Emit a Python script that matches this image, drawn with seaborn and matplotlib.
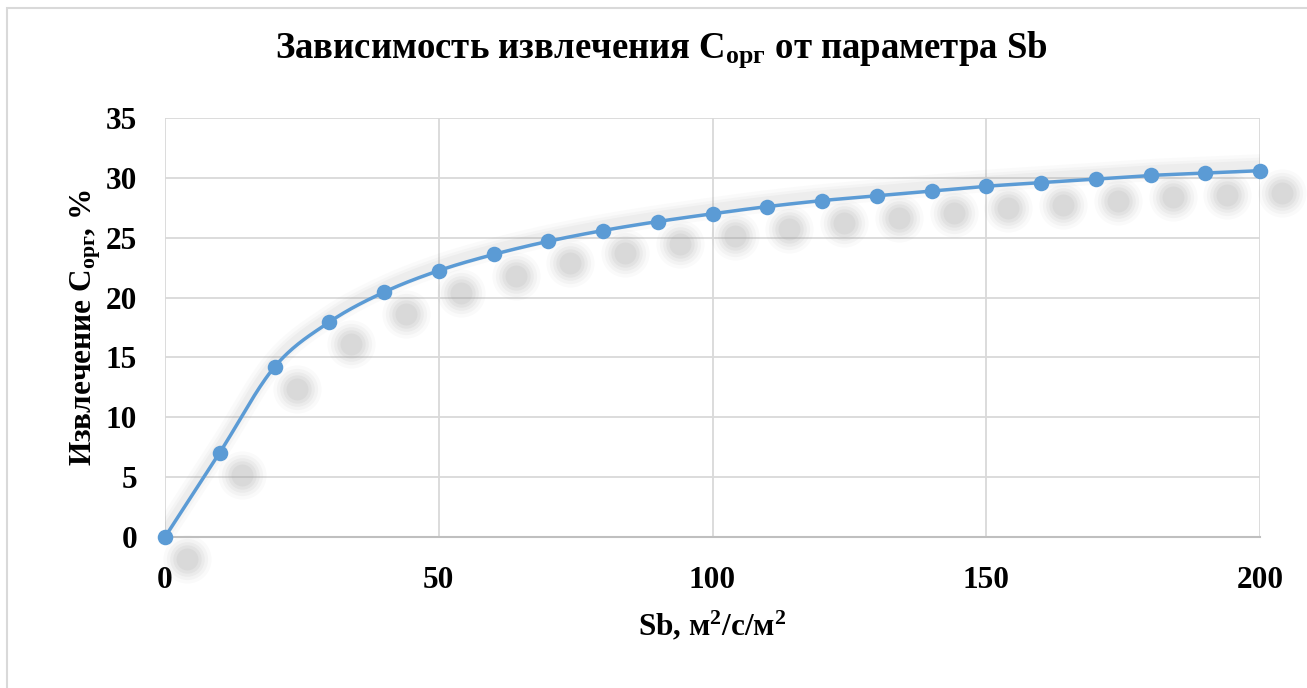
import numpy as np
import pandas as pd
import seaborn as sns
import matplotlib
matplotlib.use("Agg")
import matplotlib.pyplot as plt
from matplotlib import transforms
from matplotlib.patches import Rectangle

# Data: extraction of organic carbon vs Sb parameter
sb = [0, 10, 20, 30, 40, 50, 60, 70, 80, 90, 100,
      110, 120, 130, 140, 150, 160, 170, 180, 190, 200]
extraction = [0.0, 7.05, 14.2, 17.95, 20.45, 22.25, 23.6, 24.7, 25.6, 26.35, 27.0,
              27.6, 28.1, 28.5, 28.9, 29.3, 29.6, 29.9, 30.2, 30.4, 30.6]
x_ticks = [0, 50, 100, 150, 200]
y_ticks = [0, 5, 10, 15, 20, 25, 30, 35]

title = "Зависимость извлечения C$_{\\mathrm{орг}}$ от параметра Sb"
x_label = "Sb, м$^{\\mathrm{2}}$/с/м$^{\\mathrm{2}}$"
y_label = "Извлечение C$_{\\mathrm{орг}}$, %"

BLUE = "#5B9BD5"
GRID = "#D9D9D9"

sns.set_theme(style="white")
plt.rcParams["font.family"] = ["Liberation Serif", "DejaVu Serif"]
plt.rcParams["font.weight"] = "bold"
plt.rcParams["text.color"] = "black"
plt.rcParams["xtick.color"] = "black"
plt.rcParams["ytick.color"] = "black"
plt.rcParams["axes.labelcolor"] = "black"
plt.rcParams["mathtext.fontset"] = "custom"
plt.rcParams["mathtext.rm"] = "Liberation Serif:bold"
plt.rcParams["mathtext.it"] = "Liberation Serif:bold"
plt.rcParams["mathtext.bf"] = "Liberation Serif:bold"


def smooth_curve(x, y, steps=30, tension=0.5):
    """Cardinal spline through the points (like a spreadsheet smoothed line)."""
    x = np.asarray(x, float)
    y = np.asarray(y, float)
    px = np.concatenate([[2 * x[0] - x[1]], x, [2 * x[-1] - x[-2]]])
    py = np.concatenate([[2 * y[0] - y[1]], y, [2 * y[-1] - y[-2]]])
    xs, ys = [], []
    t = np.linspace(0, 1, steps, endpoint=False)
    for i in range(1, len(px) - 2):
        m0x = tension * (px[i + 1] - px[i - 1])
        m1x = tension * (px[i + 2] - px[i])
        m0y = tension * (py[i + 1] - py[i - 1])
        m1y = tension * (py[i + 2] - py[i])
        h00 = 2 * t**3 - 3 * t**2 + 1
        h10 = t**3 - 2 * t**2 + t
        h01 = -2 * t**3 + 3 * t**2
        h11 = t**3 - t**2
        xs.append(h00 * px[i] + h10 * m0x + h01 * px[i + 1] + h11 * m1x)
        ys.append(h00 * py[i] + h10 * m0y + h01 * py[i + 1] + h11 * m1y)
    xs.append([x[-1]])
    ys.append([y[-1]])
    return np.concatenate(xs), np.concatenate(ys)


df = pd.DataFrame({"sb": sb, "extraction": extraction})
cx, cy = smooth_curve(sb, extraction)
curve = pd.DataFrame({"sb": cx, "extraction": cy})

fig = plt.figure(figsize=(13.07, 6.88), dpi=100)
ax = fig.add_axes([165 / 1307, 1 - 537 / 688, (1260 - 165) / 1307, (537 - 118) / 688])

# chart-area border
fig.patches.append(Rectangle((7 / 1307, -0.05), 1.1, 1 - 8 / 688 + 0.05,
                             transform=fig.transFigure, fill=False,
                             edgecolor=GRID, linewidth=1.5, zorder=0))

# soft shadow around the line
for lw, a in [(16, 0.035), (11, 0.045), (7, 0.06)]:
    ax.plot(cx, cy + 0.45, color="#808080", lw=lw, alpha=a,
            solid_capstyle="round", zorder=2)

# blurred drop shadows of the markers, offset down-right
shadow_tr = transforms.offset_copy(ax.transData, fig=fig, x=22, y=-22, units="dots")
for s, a in [(1200, 0.05), (880, 0.07), (620, 0.09), (420, 0.11), (250, 0.13)]:
    ax.scatter(df["sb"], df["extraction"], s=s, color="#A0A0A0", alpha=a,
               linewidths=0, transform=shadow_tr, clip_on=False, zorder=2)

sns.lineplot(data=curve, x="sb", y="extraction", ax=ax, color=BLUE,
             linewidth=2.5, sort=False, estimator=None, zorder=3)
sns.scatterplot(data=df, x="sb", y="extraction", ax=ax, color=BLUE, s=125,
                linewidth=0, zorder=4, clip_on=False)

ax.set_xlim(0, 200)
ax.set_ylim(0, 35)
ax.set_xticks(x_ticks)
ax.set_yticks(y_ticks)
ax.grid(True, color=GRID, linewidth=1.3)
ax.set_axisbelow(True)
for side in ["top", "right", "left"]:
    ax.spines[side].set_visible(False)
ax.spines["bottom"].set_color("#BFBFBF")
ax.spines["bottom"].set_linewidth(1.5)
ax.tick_params(axis="both", length=0, labelsize=22.5, colors="black")
ax.tick_params(axis="x", pad=21)
ax.tick_params(axis="y", pad=20)
for lbl in ax.get_xticklabels() + ax.get_yticklabels():
    lbl.set_fontweight("bold")

ax.set_xlabel(x_label, fontsize=22.5, fontweight="bold", labelpad=10, color="black")
ax.set_ylabel(y_label, fontsize=22.5, fontweight="bold", labelpad=2, color="black")
fig.text(661 / 1307, 1 - 50 / 688, title, fontsize=26.5,
         fontweight="bold", ha="center", va="center", color="black")

fig.savefig("out.png", dpi=100)
